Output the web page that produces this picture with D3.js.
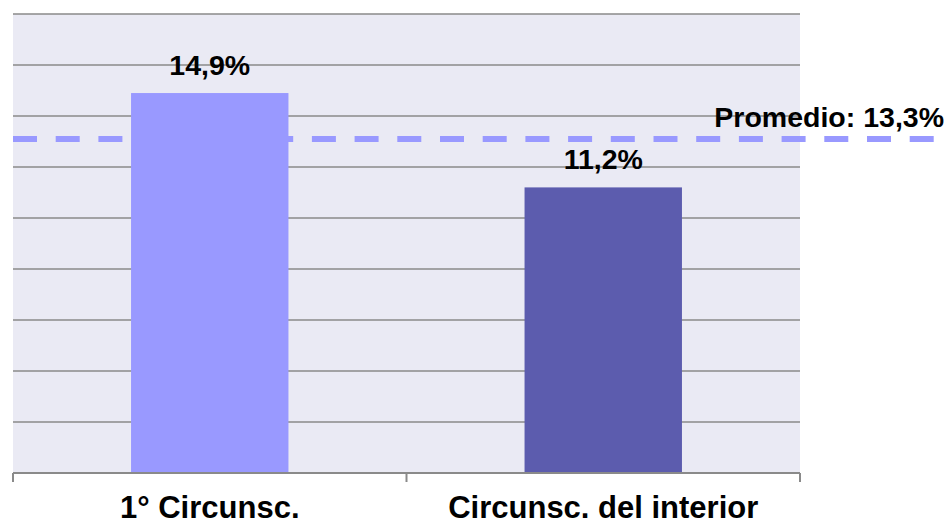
<!DOCTYPE html>
<html>
<head>
<meta charset="utf-8">
<script src="https://cdn.jsdelivr.net/npm/d3@7"></script>
<style>
	html, body { margin: 0; padding: 0; background: #fff; }
	svg text { font-family: "Liberation Sans", Arial, sans-serif; font-weight: bold; fill: #000; }
</style>
</head>
<body>
<div class="chart"></div>
<script>
const categories = ['1° Circunsc.', 'Circunsc. del interior'];
const values = [14.9, 11.2];
const valueLabels = ['14,9%', '11,2%'];
const barColors = ['#9999FF', '#5C5CAE'];
const promedio = 13.1;
const promedioLabel = 'Promedio: 13,3%';
const yTicks = [0, 2, 4, 6, 8, 10, 12, 14, 16, 18];

drawBarChart(948, 524);

function drawBarChart(width, height) {
	const margin = { top: 14, right: 148, bottom: 51, left: 13 };
	const innerW = width - margin.left - margin.right;
	const innerH = height - margin.top - margin.bottom;

	const svg = d3.select('.chart')
	.append('svg')
	.attr('width', width)
	.attr('height', height);

	const g = svg.append('g')
	.attr('transform', `translate(${margin.left},${margin.top})`);

	const x = d3.scaleBand()
	.domain(categories)
	.range([0, innerW])
	.paddingInner(0.6)
	.paddingOuter(0.3);

	const y = d3.scaleLinear()
	.domain([0, 18])
	.range([innerH, 0]);

	g.append('rect')
	.attr('width', innerW)
	.attr('height', innerH)
	.attr('fill', '#EAEAF4');

	g.selectAll('.grid')
	.data(yTicks.slice(1))
	.enter().append('line')
	.attr('class', 'grid')
	.attr('x1', 0)
	.attr('x2', innerW)
	.attr('y1', d => y(d))
	.attr('y2', d => y(d))
	.attr('stroke', '#8a8a8a')
	.attr('stroke-width', 1.5);

	// average line sits behind the bars and runs past the plot
	g.append('line')
	.attr('x1', 0)
	.attr('x2', width - margin.left)
	.attr('y1', y(promedio))
	.attr('y2', y(promedio))
	.attr('stroke', '#9999FF')
	.attr('stroke-width', 6)
	.attr('stroke-dasharray', '24,18.7');

	g.append('text')
	.attr('x', width - margin.left - 4)
	.attr('y', y(promedio) - 12)
	.attr('text-anchor', 'end')
	.style('font-size', '28.5px')
	.text(promedioLabel);

	g.selectAll('.bar')
	.data(values)
	.enter().append('rect')
	.attr('class', 'bar')
	.attr('x', (d, i) => x(categories[i]))
	.attr('width', x.bandwidth())
	.attr('y', d => y(d))
	.attr('height', d => innerH - y(d))
	.attr('fill', (d, i) => barColors[i]);

	g.selectAll('.val')
	.data(values)
	.enter().append('text')
	.attr('class', 'val')
	.attr('x', (d, i) => x(categories[i]) + x.bandwidth() / 2)
	.attr('y', d => y(d) - 18)
	.attr('text-anchor', 'middle')
	.style('font-size', '28.5px')
	.text((d, i) => valueLabels[i]);

	const xAxis = g.append('g')
	.attr('transform', `translate(0,${innerH})`);

	xAxis.append('line')
	.attr('x1', 0)
	.attr('x2', innerW)
	.attr('stroke', '#8a8a8a')
	.attr('stroke-width', 2);

	const edges = [0].concat(categories.map(c => x(c) + x.bandwidth() / 2 + x.step() / 2));
	xAxis.selectAll('.tick')
	.data(edges)
	.enter().append('line')
	.attr('x1', d => d)
	.attr('x2', d => d)
	.attr('y1', 0)
	.attr('y2', 9)
	.attr('stroke', '#8a8a8a')
	.attr('stroke-width', 2);

	xAxis.selectAll('.lbl')
	.data(categories)
	.enter().append('text')
	.attr('x', d => x(d) + x.bandwidth() / 2)
	.attr('y', 45)
	.attr('text-anchor', 'middle')
	.style('font-size', '31px')
	.text(d => d);
}
</script>
</body>
</html>
